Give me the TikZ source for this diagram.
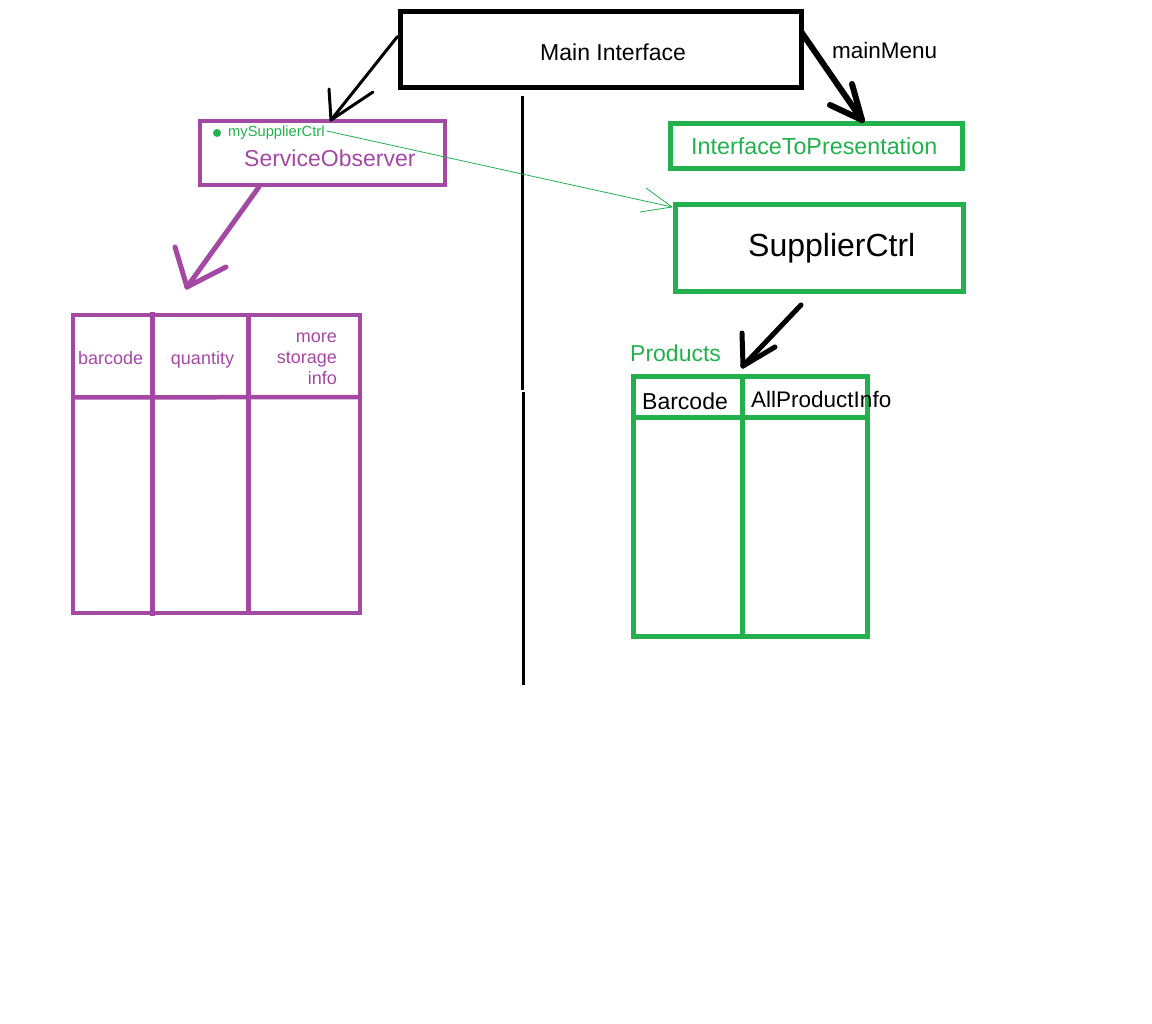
\documentclass[tikz,border=0pt]{standalone}
\usepackage{fontspec}
\setmainfont{Liberation Sans}
\usetikzlibrary{calc}
\definecolor{ppurple}{HTML}{A349A4}
\definecolor{pgreen}{HTML}{22B14C}
\begin{document}
\begin{tikzpicture}[x=1pt,y=-1pt,
  box/.style={draw, inner sep=0pt, anchor=center},
  blackbox/.style={box, line width=5pt, draw=black},
  greenbox/.style={box, line width=5pt, draw=pgreen},
  purplebox/.style={box, line width=4.5pt, draw=ppurple},
  txt/.style={inner sep=0pt, anchor=west},
  stroke/.style={line cap=round, line join=round}]
\useasboundingbox (0,0) rectangle (1152,1024);
\fill[white] (0,0) rectangle (1152,1024);

% Main interface
\node[blackbox, minimum width=401pt, minimum height=76pt] (main) at (600.5,50) {};
\node[txt, font=\fontsize{23}{26}\selectfont] (maint) at (540,52) {Main Interface};
\node[txt, font=\fontsize{22.5}{26}\selectfont] (mm) at (832,50) {mainMenu};

% separator line
\coordinate (v1) at (522,96);
\coordinate (v2) at (522,390);
\coordinate (v3) at (523,392);
\coordinate (v4) at (523,685);
\draw[line width=3pt] (v1) -- (v2);
\draw[line width=3pt] (v3) -- (v4);

% ServiceObserver
\node[purplebox, minimum width=245pt, minimum height=64pt] (so) at (322.5,153) {};
\node[circle, fill=pgreen, inner sep=0pt, minimum size=8pt] (dot) at (217,133) {};
\node[txt, text=pgreen, font=\fontsize{14.7}{17}\selectfont] (myst) at (228,133) {mySupplierCtrl};
\node[txt, text=ppurple, font=\fontsize{23}{26}\selectfont] (sot) at (244,158) {ServiceObserver};

% InterfaceToPresentation
\node[greenbox, minimum width=292pt, minimum height=45pt] (itp) at (816,146.5) {};
\node[txt, text=pgreen, font=\fontsize{23.3}{26}\selectfont] (itpt) at (691,146) {InterfaceToPresentation};

% SupplierCtrl
\node[greenbox, minimum width=288pt, minimum height=87pt] (sc) at (819,248.5) {};
\node[txt, font=\fontsize{32}{36}\selectfont] (sct) at (748,248) {SupplierCtrl};

% purple table
\node[purplebox, minimum width=287pt, minimum height=298pt] (pt) at (216.5,464) {};
\coordinate (ph1) at (73,397.5);
\coordinate (ph2) at (360,397);
\coordinate (pc1a) at (152.5,312);
\coordinate (pc1b) at (152.5,616);
\coordinate (pc2a) at (248.5,315);
\coordinate (pc2b) at (248.5,613);
\draw[ppurple, line width=4.5pt] (ph1) -- (ph2);
\draw[ppurple, line width=4.5pt] (pc1a) -- (pc1b);
\draw[ppurple, line width=4.5pt] (pc2a) -- (pc2b);
\node[txt, text=ppurple, font=\fontsize{18}{21}\selectfont] (pbc) at (78,358) {barcode};
\node[txt, anchor=center, text=ppurple, font=\fontsize{18}{21}\selectfont] (pq) at (202.5,360) {quantity};
\node[txt, anchor=east, align=right, text=ppurple, font=\fontsize{18}{21}\selectfont] (pm) at (337,359) {more\\storage\\info};

% green table
\node[txt, text=pgreen, font=\fontsize{23}{26}\selectfont] (prod) at (630,353) {Products};
\node[greenbox, minimum width=234pt, minimum height=259pt] (gt) at (750,506.5) {};
\coordinate (gh1) at (633,418);
\coordinate (gh2) at (870,418);
\coordinate (gc1) at (742.5,377);
\coordinate (gc2) at (742.5,636);
\draw[pgreen, line width=5pt] (gh1) -- (gh2);
\draw[pgreen, line width=5pt] (gc1) -- (gc2);
\node[txt, font=\fontsize{23}{26}\selectfont] (gbc) at (642,401) {Barcode};
\node[txt, font=\fontsize{22.5}{26}\selectfont] (gapi) at (751,399) {AllProductInfo};

% arrows
% main -> ServiceObserver
\coordinate (t1) at (331,120);
\draw[stroke, line width=3pt] ($(main.north west)+(0,27)$) -- (t1);
\draw[stroke, line width=3pt] (t1) -- (329,89);
\draw[stroke, line width=3pt] (t1) -- (373,92);

% main -> InterfaceToPresentation
\coordinate (t2) at (862,120);
\draw[stroke, line width=6pt] ($(main.north east)+(-1.5,23.5)$) -- (t2);
\draw[stroke, line width=6pt] (t2) -- (852,84);
\draw[stroke, line width=6pt] (t2) -- (830,105);

% mySupplierCtrl -> SupplierCtrl
\coordinate (t3) at (672,207);
\draw[pgreen, line width=0.8pt] ($(myst.east)+(2,-2)$) -- (t3);
\draw[pgreen, line width=0.8pt] (t3) -- (646,188);
\draw[pgreen, line width=0.8pt] (t3) -- (640,212);

% ServiceObserver -> purple table
\coordinate (t4) at (187,287);
\draw[stroke, ppurple, line width=5pt] ($(so.south west)+(61,0)$) -- (t4);
\draw[stroke, ppurple, line width=5pt] (t4) -- (175,247);
\draw[stroke, ppurple, line width=5pt] (t4) -- (226,267);

% SupplierCtrl -> green table
\coordinate (s5) at (801,305);
\coordinate (t5) at (743,366);
\draw[stroke, line width=5pt] (s5) -- (t5);
\draw[stroke, line width=5pt] (t5) -- (742,333);
\draw[stroke, line width=5pt] (t5) -- (775,347);
\end{tikzpicture}
\end{document}
